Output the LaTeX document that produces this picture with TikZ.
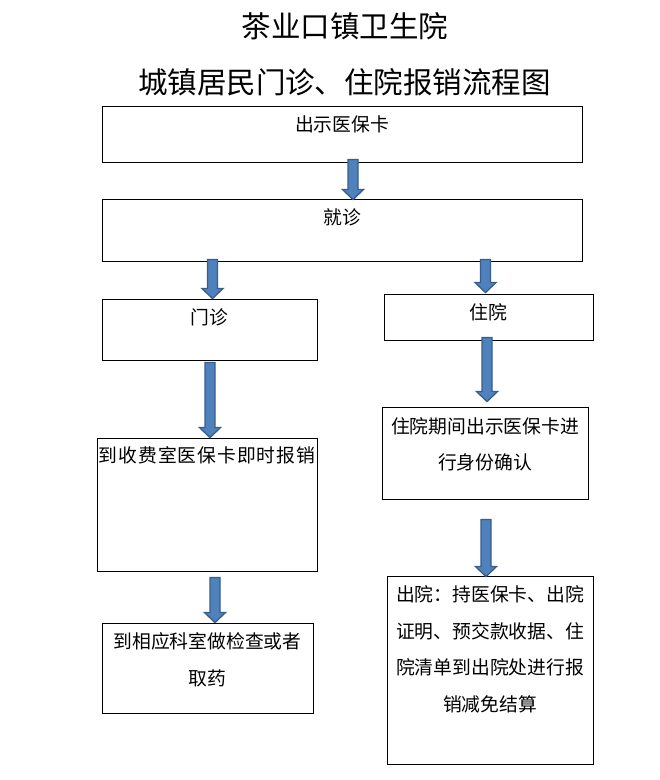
\documentclass[tikz,border=0pt]{standalone}
\usepackage{fontspec}
\newfontfamily\cjk{Noto Sans CJK SC}
\newfontfamily\cjkwide[LetterSpace=5.2]{Noto Sans CJK SC}
\usetikzlibrary{calc}
\definecolor{arrowfill}{HTML}{4F81BD}
\definecolor{arrowline}{HTML}{385D8A}
\tikzset{
  box/.style={draw, line width=0.9pt, inner sep=0pt},
  boxtext/.style={inner sep=0pt, align=center, font=\cjk\fontsize{18.8}{36.5}\selectfont},
  titletext/.style={inner sep=0pt, font=\cjk\fontsize{29.5}{30}\selectfont},
  blockarrow/.style={draw=arrowline, fill=arrowfill, line width=1.3pt, line join=miter,
    to path={let \p1=(\tikztostart), \p2=(\tikztotarget) in
      (\x1-5pt,\y1) -- (\x1-5pt,\y2+10pt) -- (\x1-10.5pt,\y2+10pt) -- (\x1,\y2)
      -- (\x1+10.5pt,\y2+10pt) -- (\x1+5pt,\y2+10pt) -- (\x1+5pt,\y1) -- cycle}}
}
\begin{document}
\begin{tikzpicture}[x=1pt,y=-1pt]
\useasboundingbox (0,0) rectangle (660,780);
\node (title) [titletext] at (345,26) {茶业口镇卫生院};
\node (subtitle) [titletext] at (344.5,82) {城镇居民门诊、住院报销流程图};
\node (card) [box, minimum width=480pt, minimum height=56pt] at (342,134) {};
\node (visit) [box, minimum width=480pt, minimum height=62pt] at (342,230) {};
\node (outp) [box, minimum width=215pt, minimum height=61pt] at (209.5,329.5) {};
\node (inp) [box, minimum width=209pt, minimum height=46pt] at (488.5,317) {};
\node (settle) [box, minimum width=220pt, minimum height=133pt] at (207,504.5) {};
\node (stay) [box, minimum width=206pt, minimum height=92pt] at (485,453) {};
\node (exam) [box, minimum width=211pt, minimum height=90pt] at (207.5,668) {};
\node (leave) [box, minimum width=206pt, minimum height=188pt] at (490,670) {};
\node (card-t) [boxtext] at ([yshift=-19pt]card.north) {出示医保卡};
\node (visit-t) [boxtext] at ([yshift=-19pt]visit.north) {就诊};
\node (outp-t) [boxtext] at ([yshift=-19pt]outp.north) {门诊};
\node (inp-t) [boxtext] at ([yshift=-19pt]inp.north) {住院};
\node (settle-t) [boxtext] at ([yshift=-18pt]settle.north) {\cjkwide 到收费室医保卡即时报销};
\node (stay-t) [boxtext] at ([yshift=-38pt]stay.north) {住院期间出示医保卡进\\行身份确认};
\node (exam-t) [boxtext] at ([yshift=-37pt]exam.north) {到相应科室做检查或者\\取药};
\node (leave-t) [boxtext] at ([yshift=-74pt]leave.north) {出院：持医保卡、出院\\证明、预交款收据、住\\院清单到出院处进行报\\销减免结算};
\draw [blockarrow] ($(card.south)+(11,-3)$) to ($(visit.north)+(11,1)$);
\draw [blockarrow] ($(outp.north |- visit.south)+(3,-2)$) to ($(outp.north)+(3,0)$);
\draw [blockarrow] ($(inp.north |- visit.south)+(-3,-2)$) to ($(inp.north)+(-3,-1)$);
\draw [blockarrow] ($(outp.south)+(0.5,2)$) to ($(outp.south |- settle.north)+(0.5,0)$);
\draw [blockarrow] ($(inp.south)+(-1.5,-3)$) to ($(inp.south |- stay.north)+(-1.5,-5)$);
\draw [blockarrow] ($(stay.south)+(1,20)$) to ($(stay.south |- leave.north)+(1,1)$);
\draw [blockarrow] ($(settle.south)+(8,6)$) to ($(settle.south |- exam.north)+(8,0)$);
\end{tikzpicture}
\end{document}
